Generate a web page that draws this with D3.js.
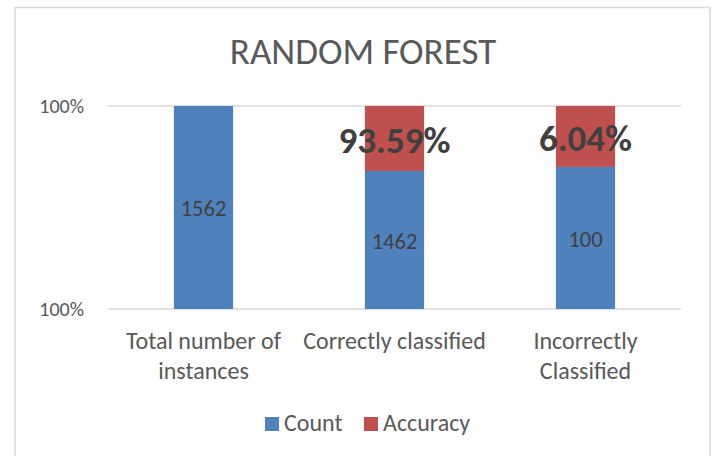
<!DOCTYPE html>
<html>
<head>
<meta charset="utf-8">
<script src="https://cdn.jsdelivr.net/npm/d3@7"></script>
<style>
  body { margin: 0; background: #fff; }
  text { font-family: Carlito, Lato, "Open Sans", sans-serif; }
</style>
</head>
<body>
<div id="chart"></div>
<script>
// data
var categories = ["Total number of instances", "Correctly classified", "Incorrectly Classified"];
var categoryLines = [["Total number of", "instances"], ["Correctly classified"], ["Incorrectly", "Classified"]];
// share of bar height taken by each series (percent)
var countShare = [100, 68, 70];
var accuracyShare = [0, 32, 30];
var countLabels = ["1562", "1462", "100"];
var accuracyLabels = ["", "93.59%", "6.04%"];
var yTicks = [0, 100];
var yTickLabels = ["100%", "100%"];
var seriesNames = ["Count", "Accuracy"];
var seriesColors = ["#4f81bd", "#c0504d"];

var width = 715, height = 456;
var margin = {top: 106, right: 34, bottom: 147, left: 108};
var plotW = width - margin.left - margin.right,
    plotH = height - margin.top - margin.bottom;

var svg = d3.select("#chart").append("svg")
  .attr("width", width)
  .attr("height", height);

// chart frame
svg.append("rect")
  .attr("x", 15).attr("y", 7.5)
  .attr("width", 695).attr("height", 460)
  .attr("fill", "#fff")
  .attr("stroke", "#d9d9d9")
  .attr("stroke-width", 1.5);

svg.append("text")
  .attr("x", 363).attr("y", 64)
  .attr("text-anchor", "middle")
  .attr("font-size", 37)
  .attr("font-weight", 300)
  .attr("fill", "#595959")
  .text("RANDOM FOREST");

var g = svg.append("g")
  .attr("transform", "translate(" + margin.left + "," + margin.top + ")");

var x = d3.scaleBand()
  .domain(categories)
  .range([0, plotW])
  .paddingInner(0.69)
  .paddingOuter(0.345);

var y = d3.scaleLinear()
  .domain([0, 100])
  .range([plotH, 0]);

// gridlines
g.selectAll(".grid")
  .data(yTicks)
  .join("line")
  .attr("x1", 0).attr("x2", plotW)
  .attr("y1", d => y(d)).attr("y2", d => y(d))
  .attr("stroke", "#d9d9d9")
  .attr("stroke-width", 1.5);

// y axis labels
var yAxis = g.append("g")
  .call(d3.axisLeft(y).tickValues(yTicks).tickSize(0).tickPadding(24)
    .tickFormat((d, i) => yTickLabels[i]));
yAxis.select(".domain").remove();
yAxis.selectAll("text")
  .attr("font-size", 20)
  .attr("fill", "#595959")
  .style("font-family", "Carlito, Lato, 'Open Sans', sans-serif");

var rows = categories.map(function(c, i) {
  return {cat: c, count: countShare[i], acc: accuracyShare[i]};
});
var stack = d3.stack().keys(["count", "acc"])(rows);

g.selectAll(".series")
  .data(stack)
  .join("g")
  .attr("fill", (d, i) => seriesColors[i])
  .selectAll("rect")
  .data(d => d)
  .join("rect")
  .attr("x", d => x(d.data.cat))
  .attr("y", d => y(d[1]))
  .attr("width", x.bandwidth())
  .attr("height", d => y(d[0]) - y(d[1]));

// count labels
g.selectAll(".countLabel")
  .data(stack[0])
  .join("text")
  .attr("x", d => x(d.data.cat) + x.bandwidth() / 2)
  .attr("y", d => (y(d[0]) + y(d[1])) / 2 + 1)
  .attr("dy", "0.35em")
  .attr("text-anchor", "middle")
  .attr("font-size", 22.5)
  .attr("fill", "#404040")
  .text((d, i) => countLabels[i]);

// accuracy labels
g.selectAll(".accLabel")
  .data(stack[1])
  .join("text")
  .attr("x", d => x(d.data.cat) + x.bandwidth() / 2)
  .attr("y", d => (y(d[0]) + y(d[1])) / 2 + 2)
  .attr("dy", "0.35em")
  .attr("text-anchor", "middle")
  .attr("font-size", 37)
  .attr("font-weight", "bold")
  .attr("fill", "#404040")
  .text((d, i) => accuracyLabels[i]);

// category labels
var xl = g.selectAll(".xlabel")
  .data(categories)
  .join("text")
  .attr("x", d => x(d) + x.bandwidth() / 2)
  .attr("y", plotH + 40)
  .attr("text-anchor", "middle")
  .attr("font-size", 24)
  .attr("fill", "#595959");
xl.selectAll("tspan")
  .data((d, i) => categoryLines[i])
  .join("tspan")
  .attr("x", function() { return d3.select(this.parentNode).attr("x"); })
  .attr("dy", (d, i) => i === 0 ? 0 : 29.5)
  .text(d => d);

// legend
var legend = svg.append("g").attr("transform", "translate(265,417)");
var legendX = [0, 99];
seriesNames.forEach(function(name, i) {
  var lg = legend.append("g").attr("transform", "translate(" + legendX[i] + ",0)");
  lg.append("rect")
    .attr("width", 14).attr("height", 14)
    .attr("fill", seriesColors[i]);
  lg.append("text")
    .attr("x", 19).attr("y", 14)
    .attr("font-size", 24)
    .attr("fill", "#595959")
    .text(name);
});
</script>
</body>
</html>
